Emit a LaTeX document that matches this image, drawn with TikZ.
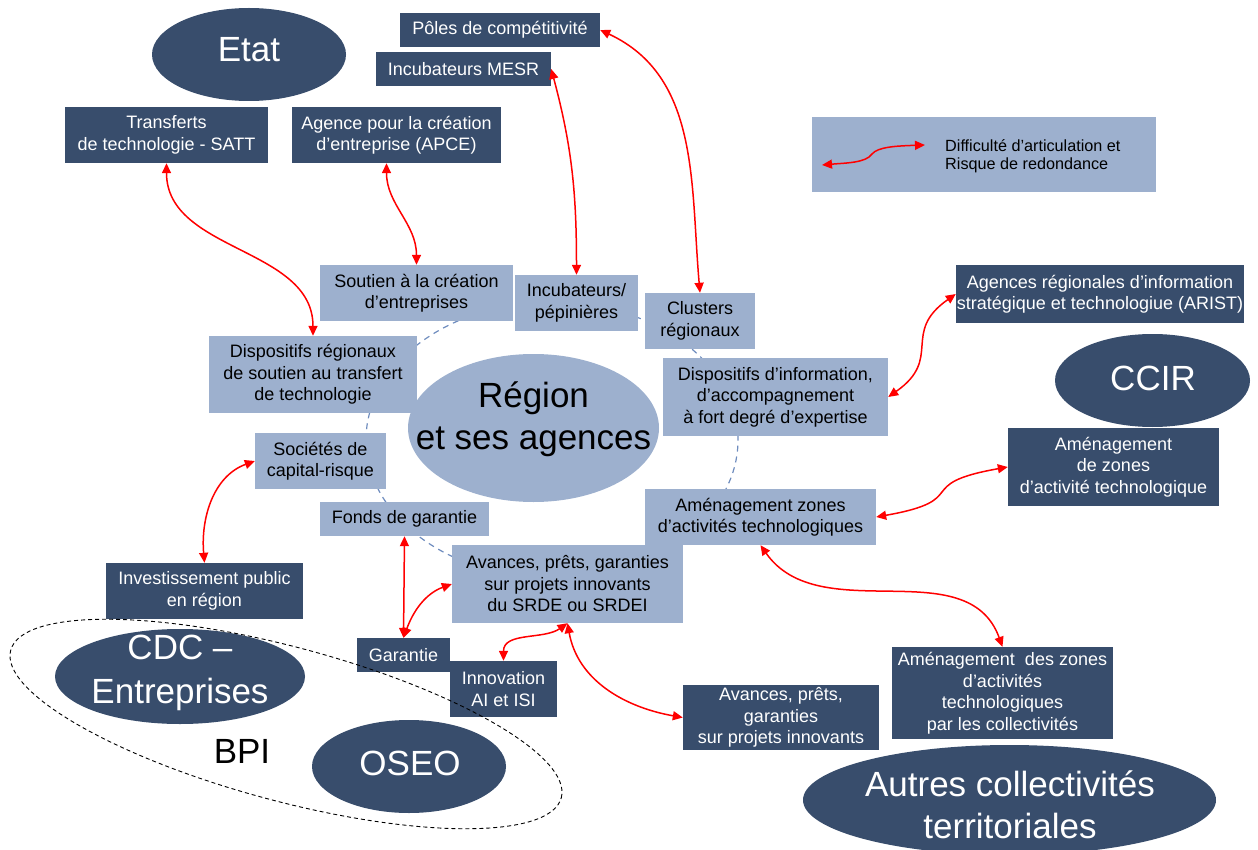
\documentclass[tikz,border=0pt]{standalone}
\usepackage{fontspec}
\setmainfont{Liberation Sans}
\usetikzlibrary{arrows.meta, shapes.geometric}

\definecolor{navy}{HTML}{384D6C}
\definecolor{pale}{HTML}{9DB0CE}
\definecolor{ring}{HTML}{6E8CBE}

\begin{document}
\begin{tikzpicture}[x=1pt, y=1pt,
  wh/.style 2 args={minimum width=#1pt, minimum height=#2pt},
  darkbox/.style={fill=navy, text=white, inner sep=0pt, align=center, font=\fontsize{18}{21.5}\selectfont},
  lightbox/.style={fill=pale, text=black, inner sep=0pt, align=center, font=\fontsize{18}{21.5}\selectfont},
  blob/.style={ellipse, fill=#1, inner sep=0pt},
  bigtext/.style={text=#1, align=center, font=\fontsize{35}{42}\selectfont},
  redarr/.style={red, line width=1.5pt, {Triangle[length=10pt,width=9pt]}-{Triangle[length=10pt,width=9pt]}}
]
\useasboundingbox (0,0) rectangle (1258,-850);

% dashed ring around the region
\draw[ring, line width=1.2pt, dash pattern=on 6pt off 5pt] (552,-440) ellipse (186pt and 138pt);

% region in the middle
\node[blob=pale, wh={251}{148}] (region) at (533.5,-428) {};
\node[bigtext=black] (regiontxt) at (533.5,-419) {Région\\et ses agences};

% national actors (Etat)
\node[blob=navy, wh={194}{93}] (etat) at (249,-54.5) {};
\node[bigtext=white] (etattxt) at (249,-50) {Etat};
\node[darkbox, wh={200}{34}] (poles) at (500,-30) {Pôles de compétitivité};
\node[darkbox, wh={175}{34}] (mesr) at (463.5,-69) {Incubateurs MESR};
\node[darkbox, wh={203}{56}] (satt) at (166.5,-135) {Transferts\\de technologie - SATT};
\node[darkbox, wh={209}{56}] (apce) at (396.5,-135) {Agence pour la création\\d’entreprise (APCE)};

% legend
\node[lightbox, wh={344}{75}] (legend) at (984,-154.5) {};
\node[text=black, align=left, anchor=west, inner sep=0pt,
  font=\fontsize{16.2}{18.5}\selectfont] (legendtxt) at (945,-156)
  {Difficulté d’articulation et\\Risque de redondance};
\coordinate (lgL) at (822,-165);
\coordinate (lgR) at (925,-145);

% regional devices
\node[lightbox, wh={193}{56}] (soutien) at (416.5,-293) {Soutien à la création\\d’entreprises};
\node[lightbox, wh={123}{56}] (incub) at (576.5,-303) {Incubateurs/\\pépinières};
\node[lightbox, wh={110}{56}] (clusters) at (700,-321) {Clusters\\régionaux};
\node[lightbox, wh={208}{77}] (dreg) at (313,-374.5) {Dispositifs régionaux\\de soutien au transfert\\de technologie};
\node[lightbox, wh={225}{78}] (dinfo) at (775.5,-397) {Dispositifs d’information,\\d’accompagnement\\à fort degré d’expertise};
\node[lightbox, wh={131}{56}] (soc) at (320.5,-461) {Sociétés de\\capital-risque};
\node[lightbox, wh={169}{34}] (fonds) at (404.5,-519) {Fonds de garantie};
\node[lightbox, wh={231}{56}] (amlight) at (760.5,-517) {Aménagement zones\\d’activités technologiques};
\node[lightbox, wh={231}{78}] (srde) at (567.5,-584) {Avances, prêts, garanties\\sur projets innovants\\du SRDE ou SRDEI};

% CCIR
\node[darkbox, wh={288}{58}] (arist) at (1100,-294) {Agences régionales d’information\\stratégique et technologiue (ARIST)};
\node[blob=navy, wh={195}{93}] (ccir) at (1152.5,-380.5) {};
\node[bigtext=white] (ccirtxt) at (1153,-378) {CCIR};
\node[darkbox, wh={211}{78}] (amzone) at (1113.5,-467) {Aménagement\\de zones\\d’activité technologique};

% other local authorities
\node[darkbox, wh={196}{65}] (avdark) at (781,-717.5) {Avances, prêts,\\garanties\\sur projets innovants};
\node[darkbox, wh={221}{92}] (amcoll) at (1002.5,-693) {Aménagement\ \ des zones\\d’activités\\technologiques\\par les collectivités};
\node[blob=navy, wh={413}{110}] (autres) at (1009.5,-800) {};
\node[bigtext=white] (autrestxt) at (1010,-805) {Autres collectivités\\territoriales};

% BPI side
\node[darkbox, wh={197}{56}] (invest) at (204.5,-591) {Investissement public\\en région};
\node[darkbox, wh={93}{34}] (garantie) at (403.5,-655) {Garantie};
\node[darkbox, wh={107}{56}] (innov) at (503.5,-689) {Innovation\\AI et ISI};
\node[blob=navy, wh={250}{95}] (cdc) at (180,-676.5) {};
\node[bigtext=white, font=\fontsize{35}{44}\selectfont] (cdctxt) at (180,-673) {CDC –\\Entreprises};
\node[blob=navy, wh={194}{93}] (oseo) at (409,-766.5) {};
\node[bigtext=white] (oseotxt) at (410,-763.5) {OSEO};
\node[bigtext=black] (bpi) at (242,-751) {BPI};

% red double arrows
\draw[redarr] (satt.south) to[out=-90,in=90] (dreg.north);
\draw[redarr] ([xshift=-10pt]apce.south) to[out=-90,in=90] (soutien.north);
\draw[redarr] (mesr.east) to[out=-75,in=90] (incub.north);
\draw[redarr] (poles.east) to[out=-25,in=95] (clusters.north);
\draw[redarr] (dinfo.east) to[out=35,in=215,looseness=1.4] (arist.west);
\draw[redarr] (amlight.east) to[out=10,in=190,looseness=1.8] (amzone.west);
\draw[redarr] (amlight.south) to[out=-55,in=110] (amcoll.north);
\draw[redarr] (srde.south) to[out=-80,in=170] (avdark.west);
\draw[redarr] (srde.south) to[out=215,in=90] (innov.north);
\draw[redarr] (fonds.south) -- (garantie.north);
\draw[redarr] (garantie.north) to[out=70,in=200] (srde.west);
\draw[redarr] (invest.north) to[out=95,in=200] (soc.west);
\draw[redarr] (lgL) .. controls (845,-163) and (866,-163) .. (872,-154)
  .. controls (878,-147) and (895,-146) .. (lgR);

% dashed outline of BPI
\draw[line width=0.9pt, dash pattern=on 4pt off 3pt, rotate around={-15:(286,-724)}]
  (286,-724) ellipse (285pt and 77pt);

\end{tikzpicture}
\end{document}
